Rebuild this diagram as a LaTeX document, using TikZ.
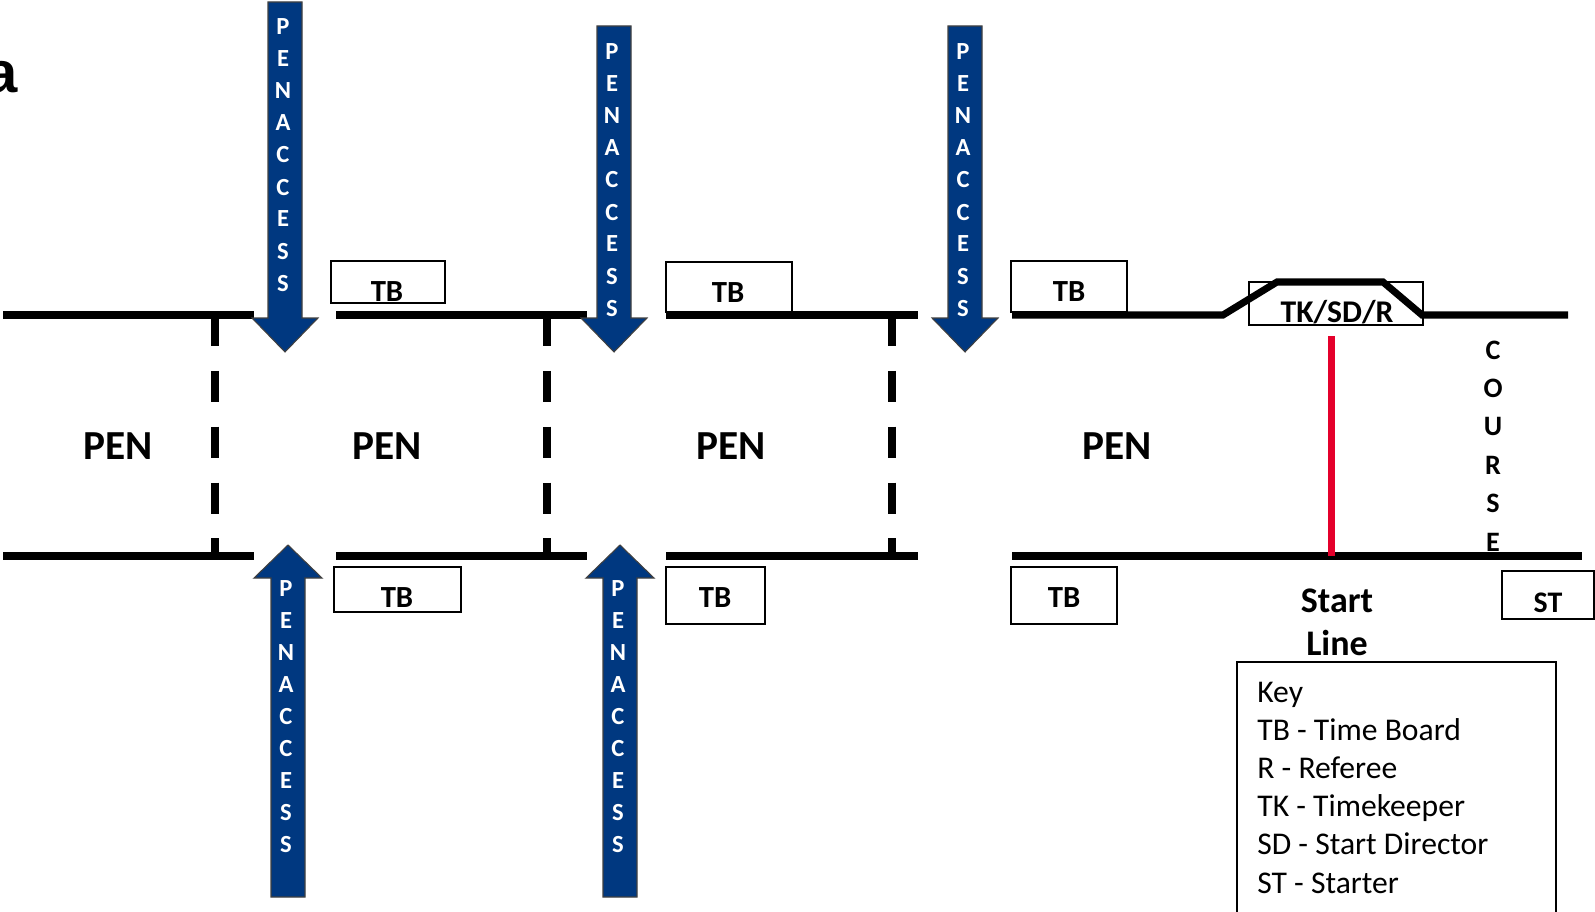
\documentclass[tikz,border=0pt]{standalone}
\usepackage{fontspec}
\setmainfont{Carlito}
\newfontfamily\arialbold{Liberation Sans Bold}
\usepackage{xcolor}
\usepackage{tikz}
\usetikzlibrary{positioning}

\definecolor{penblue}{RGB}{0,56,128}
\definecolor{startred}{RGB}{228,0,43}

\begin{document}
\begin{tikzpicture}[
  x=0.02cm, y=-0.02cm,
  font=\bfseries
]
\tikzset{
    fence/.style = {line width=4pt, black},
    divider/.style = {line width=4pt, black, dash pattern=on 17.6pt off 14.2pt},
    penarrow/.style = {fill=penblue, draw=black!75, line width=0.6pt},
    arrowtxt/.style = {anchor=base, inner sep=0pt, text=white, font=\fontsize{14}{16}\selectfont\bfseries},
    boxline/.style = {draw=black, line width=0.85pt},
    boxtxt/.style = {anchor=base, inner sep=0pt, font=\fontsize{17.5}{21}\selectfont\bfseries},
    pentxt/.style = {anchor=base, inner sep=0pt, font=\fontsize{23.5}{28}\selectfont\bfseries},
    keytxt/.style = {anchor=base west, inner sep=0pt, font=\fontsize{18}{22}\selectfont\mdseries},
}
\useasboundingbox (0,0) rectangle (1595,912);

% cut title
\node[anchor=base east, inner sep=0pt, font=\fontsize{33}{36}\arialbold] (title) at (18.5,93) {a};

% fences
\draw[fence] (3,315) -- (254,315);
\draw[fence] (336,315) -- (587,315);
\draw[fence] (666,315) -- (918,315);
\draw[fence] (1012,315) -- (1223,315) -- (1277,282) -- (1383,282) -- (1422,315) -- (1568,315);
\draw[fence] (3,556) -- (254,556);
\draw[fence] (336,556) -- (587,556);
\draw[fence] (666,556) -- (918,556);
\draw[fence] (1012,556) -- (1582,556);
\foreach \x in {215,547,892}
  \draw[divider] (\x,315) -- (\x,556);

% start line
\draw[startred, line width=4pt] (1331,336) -- (1331,556);

% pen access arrows
\foreach \x/\t/\b [count=\k] in {285/2/35, 614/26/60, 965/26/60} {
  \draw[penarrow] (\x-17,\t) -- (\x+17,\t) -- (\x+17,318) -- (\x+33,318) -- (\x,352)
    -- (\x-33,318) -- (\x-17,318) -- cycle;
  \foreach \l [count=\i from 0] in {P,E,N,A,C,C,E,S,S}
    \node[arrowtxt] (down\k-\i) at (\x-2,\b+32*\i) {\l};
}
\foreach \x [count=\k] in {288,620} {
  \draw[penarrow] (\x-17,897) -- (\x+17,897) -- (\x+17,578) -- (\x+34,578) -- (\x,545)
    -- (\x-34,578) -- (\x-17,578) -- cycle;
  \foreach \l [count=\i from 0] in {P,E,N,A,C,C,E,S,S}
    \node[arrowtxt] (up\k-\i) at (\x-2,596+32*\i) {\l};
}

% time boards
\draw[boxline] (331,261) rectangle (445,303);
\node[boxtxt] (tb1) at (387,301) {TB};
\draw[boxline] (666,262) rectangle (792,312);
\node[boxtxt] (tb2) at (728,302) {TB};
\draw[boxline] (1011,261) rectangle (1127,312);
\node[boxtxt] (tb3) at (1069,301) {TB};
\draw[boxline] (334,567) rectangle (461,612);
\node[boxtxt] (tb4) at (397,607) {TB};
\draw[boxline] (666,567) rectangle (765,624);
\node[boxtxt] (tb5) at (715,607) {TB};
\draw[boxline] (1011,567) rectangle (1117,624);
\node[boxtxt] (tb6) at (1064,607) {TB};

% officials
\draw[boxline, line width=0.7pt] (1249,282) rectangle (1423,325);
\node[boxtxt, font=\fontsize{18}{21}\selectfont\bfseries] (tk) at (1337,322) {TK/SD/R};
\draw[boxline] (1502,571) rectangle (1594,619);
\node[boxtxt, font=\fontsize{17}{21}\selectfont\bfseries] (st) at (1548,612) {ST};

% pens
\node[pentxt] (pen1) at (118,459) {PEN};
\node[pentxt] (pen2) at (387,459) {PEN};
\node[pentxt] (pen3) at (731,459) {PEN};
\node[pentxt] (pen4) at (1117,459) {PEN};

% course
\foreach \l [count=\i from 0] in {C,O,U,R,S,E}
  \node[anchor=base, inner sep=0pt, font=\fontsize{16}{19}\selectfont\bfseries] (course-\i) at (1493,359+38.4*\i) {\l};

\node[anchor=base, inner sep=0pt, font=\fontsize{20.5}{25}\selectfont\bfseries] (start) at (1337,612) {Start};
\node[anchor=base, inner sep=0pt, font=\fontsize{20.5}{25}\selectfont\bfseries] (line) at (1337,655) {Line};

% key
\draw[boxline] (1237,662) rectangle (1556,925);
\foreach \t [count=\i from 0] in {Key, TB - Time Board, R - Referee, TK - Timekeeper, SD - Start Director, ST - Starter}
  \node[keytxt] (key-\i) at (1257,702+38.2*\i) {\t};
\end{tikzpicture}
\end{document}
